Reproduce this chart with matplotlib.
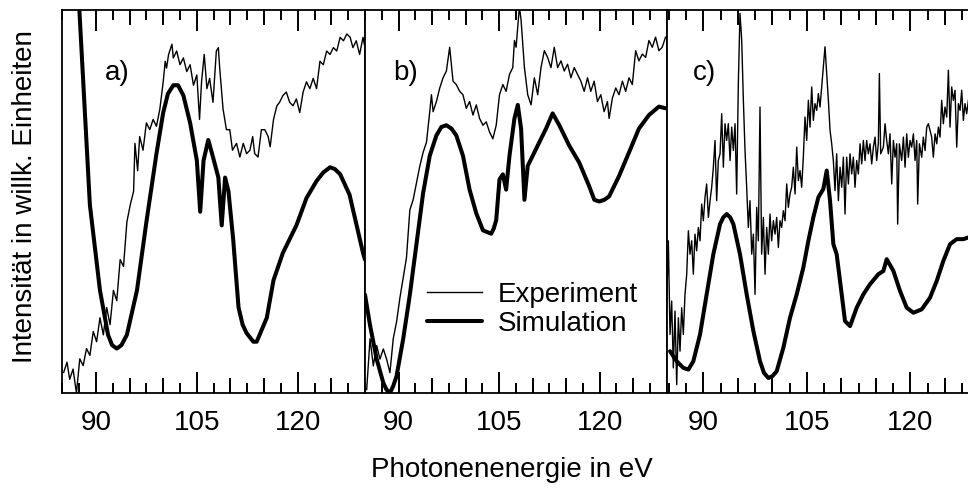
import numpy as np
import matplotlib
matplotlib.use("Agg")
import matplotlib.pyplot as plt

plt.rcParams['font.family'] = ['Liberation Sans', 'DejaVu Sans']

# ---- panel a) ----
a_exp_ev = [85.2, 85.7, 86.1, 86.6, 87.1, 87.6, 88.1, 88.6, 89.1, 89.6, 90.1, 90.6, 91.1, 91.6, 92.1,
            92.6, 93.1, 93.6, 94.1, 94.6, 95.1, 95.6, 95.8, 96.2, 96.5, 97.0, 97.5, 98.0, 98.5, 99.0,
            99.5, 100.0, 100.3, 100.5, 100.8, 101.3, 101.5, 102.0, 102.5, 103.0, 103.5, 104.0, 104.5,
            105.0, 105.4, 105.7, 106.1, 106.5, 106.9, 107.4, 107.9, 108.2, 108.4, 108.9, 109.4, 109.9,
            110.3, 110.9, 111.4, 111.9, 112.4, 112.9, 113.3, 113.6, 114.1, 114.6, 115.1, 115.6, 115.9,
            116.4, 116.9, 117.3, 117.8, 118.3, 118.8, 119.3, 119.8, 120.3, 120.8, 121.3, 121.8, 122.3,
            122.8, 123.3, 123.8, 124.3, 124.8, 125.3, 125.8, 126.3, 126.8, 127.3, 127.8, 128.2, 128.7,
            129.2, 129.7, 130.0]
a_exp_int = [9, 12, 7, 10, 3, 13, 11, 16, 14, 21, 18, 25, 20, 28, 23,
             33, 30, 42, 40, 53, 58, 62, 76, 68, 78, 74, 82, 80, 83, 81,
             86, 94, 100, 98, 102, 105, 101, 103, 99, 101, 97, 99, 93,
             96, 83, 94, 102, 92, 95, 88, 103, 104, 98, 86, 80, 80,
             74, 76, 72, 76, 73, 74, 78, 73, 72, 80, 80, 78, 75,
             83, 87, 88, 90, 91, 88, 87, 89, 85, 91, 94, 92, 95,
             92, 100, 99, 103, 102, 104, 103, 107, 106, 108, 107, 104, 106,
             102, 107, 104]
a_sim_ev = [87.4, 89.1, 90.6, 91.8, 92.4, 93.1, 93.8, 94.6, 96.1, 97.5, 99.0, 100.0, 100.7, 101.5,
            102.2, 103.0, 104.0, 105.0, 105.5, 106.0, 106.7, 107.4, 108.2, 108.7, 109.2, 109.7, 110.4,
            111.2, 111.8, 112.4, 113.4, 113.9, 115.4, 116.4, 117.8, 118.8, 119.8, 121.3, 122.8, 123.8,
            124.8, 125.5, 126.3, 127.7, 129.7, 130.0]
a_sim_int = [120, 58, 33, 20, 17, 16, 17, 20, 33, 53, 73, 85, 90.5, 93,
             93, 90, 82, 71, 56, 71, 77, 72, 66, 52, 66, 62, 48,
             28, 23, 20.5, 18, 18, 25, 36, 44, 48, 52, 60, 65, 67.5,
             69, 68.5, 67, 61, 44, 42]

# ---- panel b) ----
b_exp_ev = [85.25, 85.75, 86.24, 86.74, 87.23, 87.73, 88.22, 88.72, 89.21, 89.71, 90.2, 90.7, 91.19,
            91.69, 92.18, 92.68, 93.18, 93.67, 94.17, 94.66, 94.91, 95.16, 95.65, 96.15, 96.64, 97.14,
            97.63, 98.13, 98.62, 99.12, 99.61, 100.11, 100.6, 101.1, 101.6, 102.09, 102.59, 103.08,
            103.58, 104.07, 104.57, 105.06, 105.56, 106.05, 106.55, 107.04, 107.29, 107.54, 108.03,
            108.28, 108.78, 109.27, 109.77, 110.26, 110.76, 111.25, 111.75, 112.24, 112.74, 113.23,
            113.73, 114.23, 114.72, 115.22, 115.71, 116.21, 116.7, 117.2, 117.69, 118.19, 118.68,
            119.18, 119.67, 120.17, 120.66, 121.16, 121.41, 121.9, 122.4, 122.89, 123.39, 123.88,
            124.38, 124.87, 125.37, 125.86, 126.36, 126.86, 127.35, 127.85, 128.34, 128.84, 129.33,
            129.83]
b_exp_int = [3, 18, 10, 16, 12, 15, 12, 8, 18, 23, 30, 36, 42,
             56, 59, 64, 69, 73, 76, 85, 90, 85, 88, 92, 95, 97,
             104, 94, 93, 91, 90, 86, 88, 84, 87, 83, 81, 82,
             79, 77, 81, 90, 93, 91, 96, 98, 106, 104, 116,
             112, 98, 90, 87, 95, 90, 98, 103, 101, 98, 104,
             98, 100, 97, 99, 95, 98, 96, 94, 91, 95, 91,
             94, 88, 90, 85, 88, 83, 89, 92, 90, 94, 91,
             95, 93, 103, 100, 102, 101, 106, 104, 107, 103, 104,
             107]
b_sim_ev = [85.0, 85.75, 86.74, 87.73, 88.2, 88.72, 89.2, 89.71, 90.7, 91.69, 92.68, 93.67, 94.66,
            95.65, 96.4, 97.14, 97.9, 98.62, 99.61, 100.6, 101.6, 102.59, 103.2, 103.82, 104.2, 104.57,
            105.06, 105.56, 106.05, 106.55, 107.29, 107.79, 108.28, 108.78, 109.27, 110.51, 112.0,
            112.99, 113.98, 115.46, 116.95, 118.44, 119.2, 119.92, 120.7, 121.41, 122.89, 124.38,
            125.86, 127.35, 128.84, 129.83]
b_sim_int = [31, 22, 12, 5, 3, 2, 4, 7, 18, 31, 46, 61, 72,
             78, 80.5, 81, 80, 78, 72, 62, 55, 50, 49.5, 49, 50.5, 53,
             65, 66.5, 62, 72, 83, 87, 80, 59, 69, 74, 80,
             84.5, 81, 75, 70, 63, 59, 58.5, 59, 60, 66, 73,
             80, 84, 86.5, 86]

# ---- panel c) ----
c_exp_ev = [84.70, 84.94, 85.18, 85.42, 85.66, 85.90, 86.15, 86.39, 86.63, 86.87, 87.11, 87.35, 87.60,
            87.84, 88.08, 88.32, 88.56, 88.80, 89.04, 89.29, 89.53, 89.77, 90.01, 90.25, 90.49, 90.74,
            90.98, 91.22, 91.46, 91.70, 91.94, 92.18, 92.43, 92.67, 92.91, 93.15, 93.39, 93.63, 93.88,
            94.12, 94.36, 94.60, 94.84, 95.08, 95.32, 95.57, 95.81, 96.05, 96.29, 96.53, 96.77, 97.02,
            97.26, 97.50, 97.74, 97.98, 98.22, 98.46, 98.71, 98.95, 99.19, 99.43, 99.67, 99.91, 100.16,
            100.40, 100.64, 100.88, 101.12, 101.36, 101.60, 101.85, 102.09, 102.33, 102.57, 102.81,
            103.05, 103.30, 103.54, 103.78, 104.02, 104.26, 104.50, 104.74, 104.99, 105.23, 105.47,
            105.71, 105.95, 106.19, 106.44, 106.68, 106.92, 107.16, 107.40, 107.64, 107.89, 108.13,
            108.37, 108.61, 108.85, 109.09, 109.33, 109.58, 109.82, 110.06, 110.30, 110.54, 110.78,
            111.03, 111.27, 111.51, 111.75, 111.99, 112.23, 112.47, 112.72, 112.96, 113.20, 113.44,
            113.68, 113.92, 114.16, 114.41, 114.65, 114.89, 115.13, 115.37, 115.52, 115.71, 116.10,
            116.34, 116.58, 116.82, 117.06, 117.31, 117.55, 117.79, 118.03, 118.17, 118.42, 118.75,
            119.00, 119.24, 119.48, 119.72, 119.96, 120.20, 120.45, 120.69, 120.93, 121.07, 121.32,
            121.65, 121.89, 122.14, 122.38, 122.62, 122.86, 123.10, 123.34, 123.59, 123.83, 124.07,
            124.31, 124.55, 124.79, 125.03, 125.28, 125.52, 125.76, 126.00, 126.24, 126.48, 126.73,
            126.97, 127.21, 127.45, 127.69, 127.93, 128.17, 128.42]
c_exp_int = [28, 46, 18, 28, 8, 25, 3, 23, 13, 26, 18, 30, 36,
             49, 42, 46, 36, 48, 43, 50, 46, 57, 52, 59, 63, 53,
             58, 62, 68, 76, 58, 70, 72, 84, 68, 81, 76, 81, 70,
             80, 73, 81, 60, 93, 114, 106, 88, 73, 62, 50, 58, 42,
             48, 30, 56, 46, 86, 42, 53, 36, 50, 42, 54, 46, 52,
             48, 53, 44, 52, 50, 55, 52, 63, 56, 60, 62,
             68, 60, 74, 64, 67, 62, 71, 83, 76, 88, 80,
             92, 82, 87, 85, 90, 86, 92, 98, 104, 96, 88,
             79, 75, 70, 61, 72, 58, 68, 62, 71, 54, 71,
             63, 72, 66, 71, 62, 70, 66, 75, 69, 76, 70,
             76, 72, 75, 69, 74, 77, 70, 75, 96, 72, 74,
             81, 76, 72, 78, 63, 76, 71, 75, 51, 75, 70,
             77, 68, 78, 71, 76, 74, 78, 70, 76, 57, 75,
             71, 77, 73, 80, 81, 79, 77, 71, 78, 75, 80,
             77, 88, 81, 86, 83, 97, 80, 92, 88, 91, 74,
             87, 85, 91, 82, 87, 84, 88]
c_sim_ev = [85.18, 86.15, 87.11, 87.84, 88.56, 89.53, 90.49, 91.46, 92.43, 92.9, 93.39, 93.9, 94.36,
            95.32, 96.29, 97.26, 98.22, 98.8, 99.43, 100.0, 100.64, 101.6, 102.57, 103.54, 104.5,
            105.23, 105.95, 106.68, 107.4, 107.89, 108.37, 108.85, 109.33, 110.06, 110.54, 111.27,
            112.23, 113.2, 114.16, 115.37, 116.1, 116.58, 117.55, 118.51, 119.48, 120.45, 121.65,
            122.86, 123.83, 124.79, 125.76, 126.72, 127.69, 128.42]
c_sim_int = [13, 10, 8, 7.5, 10, 18, 30, 42, 51, 53, 54, 53, 51,
             42, 30, 19, 10, 6.5, 5, 5.5, 7, 14, 23, 30, 38,
             46, 53, 59, 61.5, 67, 58, 45, 42, 30, 22, 20.5,
             26, 30, 33, 36, 37, 40.5, 37, 31, 26, 24.5, 25.5,
             29, 34, 40, 45, 46.5, 46.5, 47]

panels = [
    ("a)", a_exp_ev, a_exp_int, a_sim_ev, a_sim_int),
    ("b)", b_exp_ev, b_exp_int, b_sim_ev, b_sim_int),
    ("c)", c_exp_ev, c_exp_int, c_sim_ev, c_sim_int),
]

W, H = 968, 488
fig = plt.figure(figsize=(W / 100, H / 100), dpi=100)

# axes boxes in pixels: left, right; shared top/bottom
boxes = [(62.3, 365.0, (85, 130), (3, 115), 0.141),
         (365.0, 666.7, (85, 130), (2, 115), 0.093),
         (666.7, 979.3, (84.7, 130), (0.5, 115), 0.084)]
top_px, bot_px = 10, 393

fs = 20
for (lab, ex, ey, sx, sy), (l, r, xl, yl, labx) in zip(panels, boxes):
    ax = fig.add_axes([l / W, (H - bot_px) / H, (r - l) / W, (bot_px - top_px) / H])
    ax.plot(ex, ey, color='black', lw=1.0, label='Experiment')
    ax.plot(sx, sy, color='black', lw=2.9, label='Simulation',
            solid_joinstyle='round', solid_capstyle='round')
    ax.set_xlim(*xl)
    ax.set_ylim(*yl)
    ax.set_yticks([])
    ax.set_xticks([90, 105, 120])
    ax.set_xticklabels(['90', '105', '120'], fontsize=fs)
    ax.set_xticks(np.arange(85, 131, 2.5), minor=True)
    ax.tick_params(axis='x', which='major', direction='in', length=15, width=1.4,
                   top=True, bottom=True, pad=12)
    ax.tick_params(axis='x', which='minor', direction='in', length=7.5, width=1.4,
                   top=True, bottom=True)
    for side in ('bottom', 'top'):
        sec = ax.secondary_xaxis(side)
        sec.set_xticks([95, 100, 110, 115, 125, 130])
        sec.tick_params(direction='in', length=11, width=1.4, labelbottom=False, labeltop=False)
        sec.spines[side].set_visible(False)
    for sp in ax.spines.values():
        sp.set_linewidth(1.3)
    ax.text(labx, 0.835, lab, transform=ax.transAxes, fontsize=fs, ha='left', va='center')
    if lab == "b)":
        ax.legend(loc='upper left', bbox_to_anchor=(0.205, 0.29), frameon=False, fontsize=fs,
                  handlelength=2.0, handletextpad=0.55, labelspacing=0.1,
                  borderpad=0, borderaxespad=0)

fig.text(25 / W, 1 - 197 / H, 'Intensität in willk. Einheiten', rotation=90,
         fontsize=fs, ha='center', va='center')
fig.text(512 / W, 1 - 470 / H, 'Photonenenergie in eV', fontsize=fs, ha='center', va='center')

fig.savefig('out.png', dpi=100)
